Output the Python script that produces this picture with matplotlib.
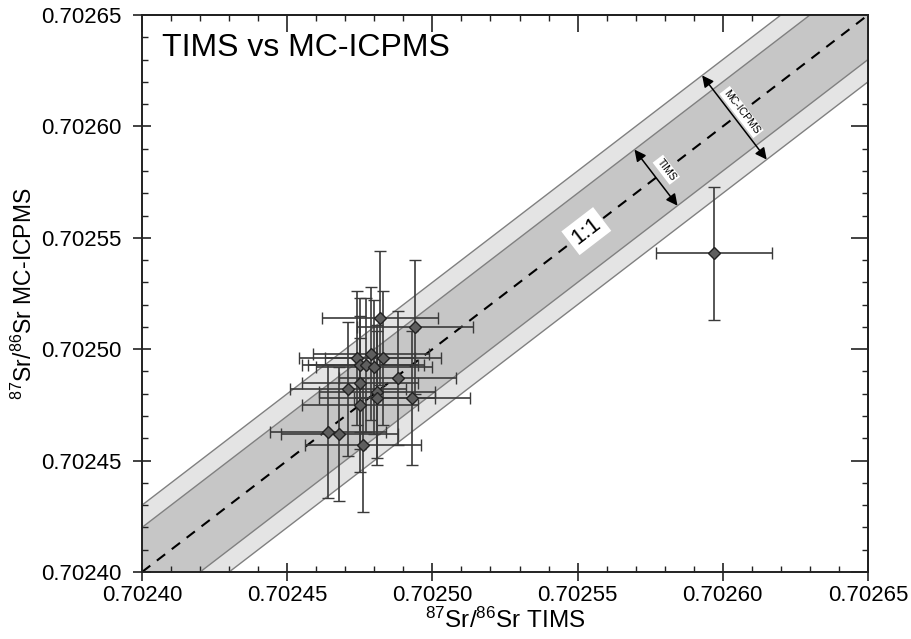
import numpy as np
import matplotlib
matplotlib.use('Agg')
import matplotlib.pyplot as plt
from matplotlib.ticker import MultipleLocator, FormatStrFormatter

plt.rcParams['font.family'] = ['Liberation Sans', 'DejaVu Sans']
plt.rcParams['mathtext.default'] = 'regular'

# 87Sr/86Sr, TIMS vs MC-ICPMS
tims = [0.702482, 0.702494, 0.702474, 0.702479, 0.702483, 0.702475, 0.702477,
        0.702480, 0.702488, 0.702475, 0.702471, 0.702481, 0.702481, 0.702493,
        0.702475, 0.702464, 0.702468, 0.702476, 0.702597]
mc = [0.702514, 0.702510, 0.702496, 0.702498, 0.702496, 0.702493, 0.702493,
      0.702492, 0.702487, 0.702485, 0.702482, 0.702481, 0.702478, 0.702478,
      0.702475, 0.702463, 0.702462, 0.702457, 0.702543]
tims_err = [0.00002] * len(tims)
mc_err = [0.00003] * len(mc)

lims = (0.70240, 0.70265)
band_tims = 0.00002   # inner band
band_mc = 0.00003     # outer band
tims_arrow_at = 0.702577
mc_arrow_at = 0.702604
label_11_at = 0.702553

fig = plt.figure(figsize=(9.11, 6.39), dpi=100)
ax = fig.add_axes([142/911, 1 - 572/639, 726/911, 557/639])
ax.set_xlim(lims)
ax.set_ylim(lims)

xx = np.array(lims)
ax.fill_between(xx, xx - band_mc, xx + band_mc, color='#e4e4e4', lw=0, zorder=1)
ax.fill_between(xx, xx - band_tims, xx + band_tims, color='#c6c6c6', lw=0, zorder=1)
for d in (-band_mc, -band_tims, band_tims, band_mc):
    ax.plot(xx, xx + d, color='#808080', lw=1.0, zorder=2)
ax.plot(xx, xx, color='black', lw=1.5, ls=(0, (5, 4)), zorder=2)

ax.errorbar(tims, mc, xerr=tims_err, yerr=mc_err, fmt='D', ms=6,
            mfc='#5e5e5e', mec='#222222', mew=1.0, ecolor='#3a3a3a',
            elinewidth=1.2, capsize=4, capthick=1.2, zorder=3)

# geometry of the 1:1 line on screen
p0 = ax.transData.transform((lims[0], lims[0]))
p1 = ax.transData.transform((lims[1], lims[1]))
sx = (p1[0] - p0[0]) / (lims[1] - lims[0])
sy = (p1[1] - p0[1]) / (lims[1] - lims[0])
ang = np.degrees(np.arctan2(sy, sx))
a, b = sy / sx, -sx / sy
step = 1.0 / np.hypot(sx, sy)   # data units per pixel along the line


def across(c, d):
    t1 = d / (b - a)
    t2 = -d / (b - a)
    return (c + t1 * a, c + t1 * b), (c + t2 * a, c + t2 * b)


for c, d, txt, off in [(tims_arrow_at, band_tims, 'TIMS', 13),
                       (mc_arrow_at, band_mc, 'MC-ICPMS', 9)]:
    top, bot = across(c, d)
    ax.annotate('', xy=bot, xytext=top,
                arrowprops=dict(arrowstyle='<|-|>', color='black', lw=1.1,
                                mutation_scale=17, shrinkA=0, shrinkB=0),
                zorder=4)
    ax.text(c + off * step, c + off * step, txt, rotation=ang - 90,
            rotation_mode='anchor', ha='center', va='center', fontsize=7.5,
            bbox=dict(boxstyle='square,pad=0.15', fc='white', ec='none'),
            zorder=5)

ax.text(label_11_at, label_11_at, '1:1', rotation=ang, rotation_mode='anchor',
        ha='center', va='center', fontsize=16,
        bbox=dict(boxstyle='square,pad=0.2', fc='white', ec='none'), zorder=5)

ax.text(0.027, 0.968, 'TIMS vs MC-ICPMS', transform=ax.transAxes,
        ha='left', va='top', fontsize=23)

for axis in (ax.xaxis, ax.yaxis):
    axis.set_major_locator(MultipleLocator(0.00005))
    axis.set_minor_locator(MultipleLocator(0.00001))
    axis.set_major_formatter(FormatStrFormatter('%.5f'))
ax.tick_params(which='major', direction='inout', length=13, width=1.2,
               labelsize=16, color='#222222')
ax.tick_params(axis='x', which='major', pad=3)
ax.tick_params(axis='y', which='major', pad=8)
ax.tick_params(which='minor', direction='in', length=4, width=1.0, color='#222222')

secx = ax.secondary_xaxis('top')
secy = ax.secondary_yaxis('right')
for sec, axis in ((secx, secx.xaxis), (secy, secy.yaxis)):
    axis.set_major_locator(MultipleLocator(0.00005))
    axis.set_minor_locator(MultipleLocator(0.00001))
    sec.tick_params(which='major', direction='in', length=12, width=1.2,
                    labeltop=False, labelright=False, color='#222222')
    sec.tick_params(which='minor', direction='in', length=4, width=1.0,
                    color='#222222')
    for s in sec.spines.values():
        s.set_linewidth(1.4)

for s in ax.spines.values():
    s.set_linewidth(1.4)
    s.set_color('#222222')

ax.set_xlabel('$^{87}$Sr/$^{86}$Sr TIMS', fontsize=17.5, labelpad=1)
ax.set_ylabel('$^{87}$Sr/$^{86}$Sr MC-ICPMS', fontsize=16.5, labelpad=3)

fig.savefig('out.png', dpi=100)
